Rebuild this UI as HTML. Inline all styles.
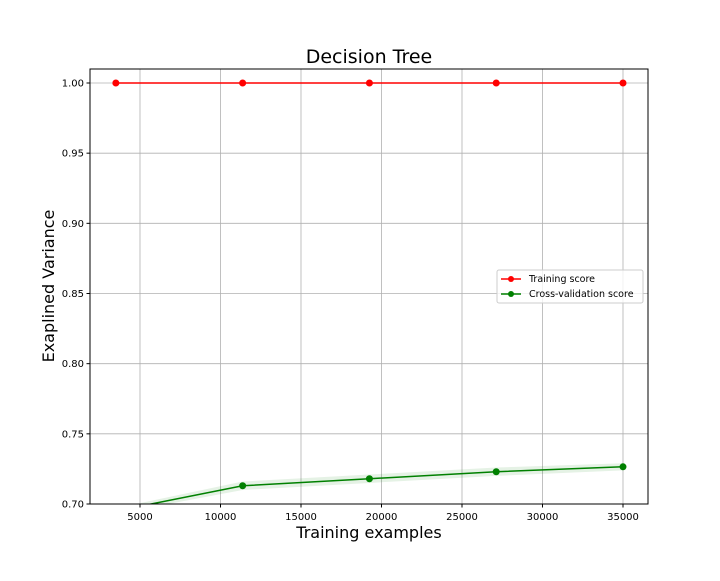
<!DOCTYPE html>
<html><head><meta charset="utf-8"><style>
body{margin:0;background:#fff;}
svg text{font-family:"DejaVu Sans","Liberation Sans",sans-serif;}
</style></head><body>
<svg id="chart" width="720" height="576" xmlns="http://www.w3.org/2000/svg">
<defs><clipPath id="pc"><rect x="90" y="69" width="558" height="435"/></clipPath></defs>
<rect width="720" height="576" fill="#fff"/>
<text x="369" y="63" font-size="19" text-anchor="middle">Decision Tree</text>
<g id="grid"></g>
<g id="marks" clip-path="url(#pc)"></g>
<rect x="90" y="69" width="558" height="435" fill="none" stroke="#000" stroke-width="1"/>
<g id="ticks"></g>
<text x="369" y="538" font-size="16" text-anchor="middle">Training examples</text>
<text transform="translate(54,286) rotate(-90)" font-size="16" text-anchor="middle">Exaplined Variance</text>
<g>
<rect x="497" y="270" width="146" height="33" rx="2" fill="#fff" fill-opacity="0.8" stroke="#ccc"/>
<g>
<line x1="501" y1="279" x2="521" y2="279" stroke="red" stroke-width="1.5"/><circle cx="511" cy="279" r="3" fill="red"/>
<text x="529" y="282" font-size="9.5">Training score</text></g>
<g>
<line x1="501" y1="294" x2="521" y2="294" stroke="green" stroke-width="1.5"/><circle cx="511" cy="294" r="3" fill="green"/>
<text x="529" y="297" font-size="9.5">Cross-validation score</text></g>
</g>
</svg>
<script>
const trainSizes=[3500,11375,19250,27125,35000];
const trainScores=[1.0,1.0,1.0,1.0,1.0];
const trainStd=[0,0,0,0,0];
const cvScores=[0.695,0.713,0.718,0.723,0.7265];
const cvStd=[0.002,0.003,0.003,0.003,0.0025];
const xTicks=[5000,10000,15000,20000,25000,30000,35000];
const yTicks=[0.70,0.75,0.80,0.85,0.90,0.95,1.00];
const NS="http://www.w3.org/2000/svg";
function sx(v){return 140+(v-5000)*80.5/5000;}
function sy(v){return 504-(v-0.70)*(421/0.30);}
function mk(t,a,p){const e=document.createElementNS(NS,t);for(const k in a)e.setAttribute(k,a[k]);p.appendChild(e);return e;}
const grid=document.getElementById('grid'),ticks=document.getElementById('ticks'),marks=document.getElementById('marks');
xTicks.forEach(t=>{const x=sx(t);
const g=mk('line',{x1:x,x2:x,y1:69,y2:504,stroke:'#b0b0b0','stroke-width':0.8},grid);


mk('line',{x1:x,x2:x,y1:504,y2:507.5,stroke:'#000'},ticks);
const tx=mk('text',{x:x,y:520,'font-size':10,'text-anchor':'middle'},ticks);tx.textContent=t;

});
yTicks.forEach(t=>{const y=sy(t);
const g=mk('line',{x1:90,x2:648,y1:y,y2:y,stroke:'#b0b0b0','stroke-width':0.8},grid);


mk('line',{x1:86.5,x2:90,y1:y,y2:y,stroke:'#000'},ticks);
const tx=mk('text',{x:84,y:y+3.5,'font-size':10,'text-anchor':'end'},ticks);tx.textContent=t.toFixed(2);

});
function series(vals,std,col,name){
let up=trainSizes.map((s,i)=>sx(s)+','+sy(vals[i]+std[i]));
let dn=trainSizes.map((s,i)=>sx(s)+','+sy(vals[i]-std[i])).reverse();
const b=mk('polygon',{points:up.concat(dn).join(' '),fill:col,'fill-opacity':0.1},marks);


const l=mk('polyline',{points:trainSizes.map((s,i)=>sx(s)+','+sy(vals[i])).join(' '),fill:'none',stroke:col,'stroke-width':1.5},marks);


trainSizes.forEach((s,i)=>{const c=mk('circle',{cx:sx(s),cy:sy(vals[i]),r:3.5,fill:col},marks);

});}
series(trainScores,trainStd,'red','training-score');
series(cvScores,cvStd,'green','cv-score');
</script>
</body></html>
